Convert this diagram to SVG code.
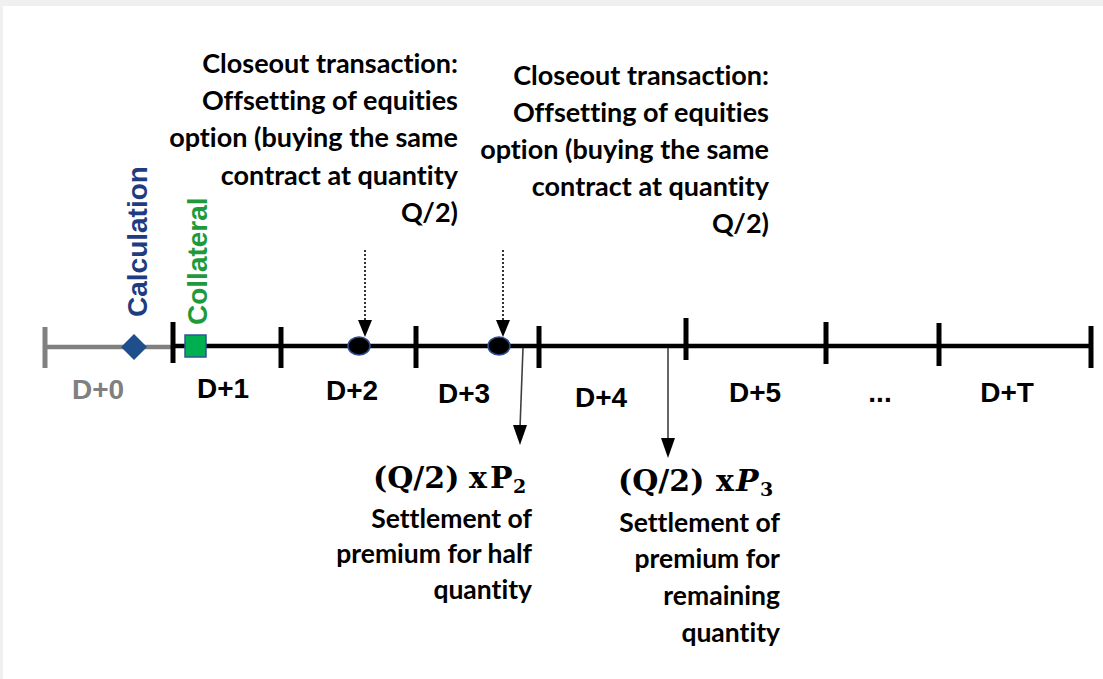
<svg xmlns="http://www.w3.org/2000/svg" width="1103" height="679" viewBox="0 0 1103 679">
<style>
.lbl{font-family:"Liberation Sans",Arial,sans-serif;font-weight:700;font-size:28px;text-anchor:middle}
.note{font-family:Lato,"Open Sans",sans-serif;font-weight:700;font-size:27px;fill:#000;text-anchor:end;font-variant-ligatures:none}
.note2{font-family:Lato,"Open Sans",sans-serif;font-weight:700;font-size:26.5px;fill:#000;text-anchor:end;font-variant-ligatures:none}
.math{font-family:"DejaVu Serif","Liberation Serif",serif;font-weight:700;font-size:30px;fill:#000}
.sub{font-family:"DejaVu Serif","Liberation Serif",serif;font-weight:700;font-size:19px;fill:#000}
.tick{stroke:#000;stroke-width:5}
.dot{fill:#000;stroke:#2f4f8f;stroke-width:1.5}
.dash{stroke:#000;stroke-width:1.6;stroke-dasharray:2 2;fill:none}
.solid{stroke:#404040;stroke-width:1.6;fill:none}
.head{fill:#000}
</style>
<rect x="0" y="0" width="1103" height="679" fill="#f0f0f0"/>
<rect x="3" y="6" width="1100" height="673" fill="#fff"/>

<g id="timeline">
  <line x1="45" y1="347" x2="173" y2="347" stroke="#808080" stroke-width="4.5"/>
  <line x1="45" y1="327" x2="45" y2="368" stroke="#808080" stroke-width="5"/>
  <line x1="173" y1="346" x2="1091" y2="346" stroke="#000" stroke-width="4.5"/>
  <line class="tick" x1="173" y1="322" x2="173" y2="363"/>
  <line class="tick" x1="281" y1="327" x2="281" y2="368"/>
  <line class="tick" x1="416" y1="326" x2="416" y2="368"/>
  <line class="tick" x1="539" y1="326" x2="539" y2="368"/>
  <line class="tick" x1="686" y1="318" x2="686" y2="360"/>
  <line class="tick" x1="826" y1="322" x2="826" y2="364"/>
  <line class="tick" x1="939" y1="323" x2="939" y2="366"/>
  <line class="tick" x1="1091" y1="326" x2="1091" y2="368"/>
</g>

<g id="day-labels">
  <text class="lbl" x="98" y="399" fill="#808080">D+0</text>
  <text class="lbl" x="223" y="398">D+1</text>
  <text class="lbl" x="352" y="400">D+2</text>
  <text class="lbl" x="464" y="403">D+3</text>
  <text class="lbl" x="601" y="407">D+4</text>
  <text class="lbl" x="755" y="402">D+5</text>
  <text class="lbl" x="880" y="402">...</text>
  <text class="lbl" x="1007" y="402">D+T</text>
</g>

<g id="calculation">
  <polygon points="134,334 147,347 134,360 121,347" fill="#1f4e8c"/>
  <text class="lbl" transform="translate(147,317) rotate(-90)" style="text-anchor:start" fill="#1f3c80">Calculation</text>
</g>

<g id="collateral">
  <rect x="185" y="335" width="21" height="22" fill="#00b050" stroke="#2f5597" stroke-width="1.5"/>
  <text class="lbl" transform="translate(207,325) rotate(-90)" style="text-anchor:start" fill="#1e9a3a">Collateral</text>
</g>

<g id="closeout-1">
  <ellipse class="dot" cx="359" cy="346" rx="11" ry="9"/>
  <text class="note" x="458" y="73">Closeout transaction:</text>
  <text class="note" x="458" y="110">Offsetting of equities</text>
  <text class="note" x="458" y="147">option (buying the same</text>
  <text class="note" x="458" y="185">contract at quantity</text>
  <text class="note" x="458" y="222">Q/2)</text>
</g>

<g id="closeout-2">
  <ellipse class="dot" cx="499" cy="346" rx="11" ry="9"/>
  <text class="note" x="769" y="85">Closeout transaction:</text>
  <text class="note" x="769" y="122">Offsetting of equities</text>
  <text class="note" x="769" y="159">option (buying the same</text>
  <text class="note" x="769" y="196">contract at quantity</text>
  <text class="note" x="769" y="233">Q/2)</text>
</g>

<g id="settlement-1">
  <text class="math" x="373" y="488">(Q/2)</text>
  <text class="math" x="469" y="488">x</text>
  <text class="math" x="490" y="488">P</text>
  <text class="sub" x="513" y="493">2</text>
  <text class="note2" x="532" y="528">Settlement of</text>
  <text class="note2" x="532" y="563">premium for half</text>
  <text class="note2" x="532" y="599">quantity</text>
</g>

<g id="settlement-2">
  <text class="math" x="618" y="491">(Q/2)</text>
  <text class="math" x="716" y="491">x</text>
  <text class="math" x="736" y="491" font-style="italic">P</text>
  <text class="sub" x="760" y="496">3</text>
  <text class="note2" x="780" y="532">Settlement of</text>
  <text class="note2" x="780" y="568">premium for</text>
  <text class="note2" x="780" y="605">remaining</text>
  <text class="note2" x="780" y="642">quantity</text>
</g>

<g id="connectors">
  <line class="dash" x1="365" y1="250" x2="365" y2="322"/>
  <polygon class="head" points="358,320 372,320 365,337"/>
  <line class="dash" x1="503" y1="250" x2="503" y2="322"/>
  <polygon class="head" points="496,320 510,320 503,337"/>
  <line class="solid" x1="523" y1="348" x2="520" y2="428"/>
  <polygon class="head" points="513,425 527,425 520,445"/>
  <line class="solid" x1="668" y1="348" x2="668" y2="440"/>
  <polygon class="head" points="661,438 675,438 668,458"/>
</g>
</svg>
